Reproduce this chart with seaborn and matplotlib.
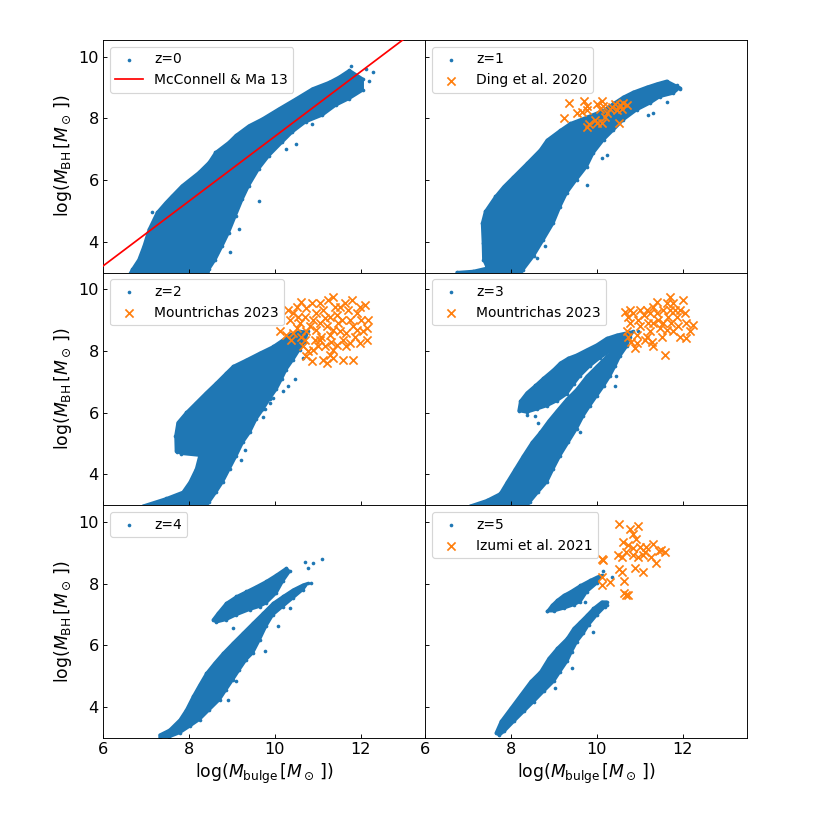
import matplotlib
matplotlib.use('Agg')
import matplotlib.pyplot as plt
import seaborn as sns

# outlines of the simulated galaxy clouds (log Mbulge, log MBH)
z0_cloud = [(6.68, 3.10), (6.83, 3.42), (6.95, 3.86), (7.07, 4.40), (7.26, 4.95), (7.46, 5.27),
            (7.61, 5.49), (7.84, 5.82), (8.23, 6.25), (8.47, 6.58), (8.62, 6.90), (8.93, 7.23),
            (9.09, 7.45), (9.40, 7.77), (9.71, 7.99), (10.10, 8.32), (10.49, 8.64), (10.88, 8.97),
            (11.27, 9.18), (11.50, 9.35), (11.74, 9.57), (12.05, 9.29), (12.05, 8.91), (11.74, 8.64),
            (11.42, 8.42), (11.11, 8.10), (10.72, 7.88), (10.41, 7.55), (10.18, 7.23), (9.87, 6.79),
            (9.63, 6.36), (9.40, 5.82), (9.25, 5.38), (9.09, 4.84), (8.93, 4.29), (8.78, 3.86),
            (8.62, 3.42), (8.47, 3.10), (8.45, 2.90), (6.60, 2.90)]
z0_dots = [(7.14, 4.95), (12.28, 9.51), (12.12, 9.62), (11.77, 9.71), (11.97, 8.97), (10.88, 7.83),
           (10.49, 7.17), (10.26, 7.00), (9.63, 5.33), (9.17, 4.40), (8.97, 3.66), (12.20, 9.20)]

z1_cloud = [(6.74, 3.01), (7.13, 3.05), (7.44, 3.15), (7.70, 3.20), (7.74, 3.85), (7.80, 4.26),
            (7.87, 3.85), (7.92, 3.31), (7.71, 3.22), (7.44, 3.17), (7.36, 3.42), (7.35, 3.96),
            (7.33, 4.60), (7.40, 4.98), (7.64, 5.47), (7.83, 5.79), (8.06, 6.11), (8.37, 6.54),
            (8.68, 6.98), (8.84, 7.30), (9.15, 7.62), (9.38, 7.84), (9.77, 8.05), (10.16, 8.27),
            (10.39, 8.49), (10.62, 8.70), (10.85, 8.86), (11.16, 9.02), (11.40, 9.13), (11.63, 9.22),
            (11.94, 9.00), (11.78, 8.81), (11.47, 8.70), (11.24, 8.49), (10.93, 8.27), (10.62, 7.95),
            (10.39, 7.62), (10.16, 7.30), (9.92, 6.87), (9.77, 6.44), (9.53, 6.01), (9.30, 5.57),
            (9.15, 5.14), (8.99, 4.60), (8.76, 4.06), (8.53, 3.53), (8.29, 3.09), (8.22, 2.93),
            (6.74, 2.93)]
z1_dots = [(11.32, 8.16), (11.63, 8.54), (11.20, 8.11), (10.23, 6.81), (10.12, 6.71), (9.77, 5.84),
           (8.80, 3.85), (8.60, 3.47), (11.86, 9.08), (11.94, 8.97)]

z2_cloud = [(6.93, 2.98), (7.47, 3.22), (7.86, 3.43), (8.02, 3.75), (8.17, 4.18), (8.25, 4.61),
            (7.82, 4.67), (7.70, 4.77), (7.69, 5.26), (7.74, 5.68), (7.94, 6.01), (8.17, 6.33),
            (8.40, 6.65), (8.64, 6.97), (8.87, 7.29), (9.03, 7.51), (9.34, 7.72), (9.65, 7.94),
            (9.96, 8.15), (10.19, 8.37), (10.35, 8.53), (10.58, 8.64), (10.78, 8.64), (10.70, 8.31),
            (10.58, 8.05), (10.43, 7.72), (10.27, 7.40), (10.16, 7.08), (10.04, 6.76), (9.88, 6.44),
            (9.73, 6.11), (9.57, 5.79), (9.42, 5.36), (9.26, 5.04), (9.11, 4.61), (8.95, 4.18),
            (8.79, 3.75), (8.64, 3.43), (8.48, 3.11), (8.40, 2.95), (6.93, 2.95)]
z2_dots = [(10.31, 6.86), (10.19, 6.70), (9.96, 6.49), (9.88, 6.33), (9.77, 6.11), (9.73, 5.85),
           (9.34, 5.36), (9.30, 4.79), (9.22, 4.48), (9.03, 4.53), (7.72, 4.72), (10.66, 7.78),
           (10.47, 7.08)]

z3_upper = [(8.18, 6.06), (8.22, 6.38), (8.37, 6.65), (8.57, 6.89), (8.76, 7.13), (8.99, 7.40),
            (9.15, 7.62), (9.34, 7.78), (9.53, 7.88), (9.77, 8.05), (10.00, 8.21), (10.23, 8.42),
            (10.47, 8.53), (10.70, 8.60), (10.85, 8.64), (10.74, 8.37), (10.54, 8.21), (10.31, 7.99),
            (10.08, 7.78), (9.84, 7.51), (9.61, 7.19), (9.46, 6.92), (9.30, 6.60), (9.07, 6.38),
            (8.84, 6.22), (8.60, 6.11), (8.37, 6.01)]
z3_lower = [(7.05, 2.98), (7.44, 3.16), (7.75, 3.38), (7.91, 3.75), (8.10, 4.18), (8.29, 4.61),
            (8.49, 5.04), (8.68, 5.36), (8.88, 5.74), (9.07, 6.06), (9.30, 6.44), (9.53, 6.76),
            (9.77, 7.19), (10.00, 7.51), (10.23, 7.83), (10.47, 8.10), (10.66, 8.37), (10.78, 8.47),
            (10.70, 8.15), (10.54, 7.83), (10.43, 7.51), (10.31, 7.19), (10.16, 6.86), (10.00, 6.54),
            (9.84, 6.22), (9.69, 5.90), (9.53, 5.47), (9.34, 5.04), (9.15, 4.61), (8.99, 4.18),
            (8.84, 3.75), (8.64, 3.43), (8.45, 3.11), (8.37, 2.95), (7.05, 2.95)]
z3_dots = [(8.22, 6.11), (8.37, 5.93), (8.57, 5.90), (8.64, 5.68), (9.61, 5.39), (10.43, 6.86),
           (10.45, 7.19), (10.97, 8.64)]

z4_upper = [(8.56, 6.83), (8.68, 7.05), (8.87, 7.37), (9.11, 7.59), (9.34, 7.75), (9.57, 7.91),
            (9.80, 8.08), (10.04, 8.29), (10.27, 8.51), (10.35, 8.40), (10.19, 8.08), (10.04, 7.70),
            (9.80, 7.37), (9.65, 7.26), (9.42, 7.16), (9.11, 6.99), (8.87, 6.83), (8.64, 6.75)]
z4_lower = [(7.32, 3.10), (7.55, 3.26), (7.79, 3.59), (7.94, 3.91), (8.10, 4.35), (8.25, 4.72),
            (8.41, 5.10), (8.60, 5.43), (8.80, 5.75), (9.03, 6.08), (9.26, 6.40), (9.49, 6.72),
            (9.73, 7.05), (9.96, 7.37), (10.19, 7.59), (10.43, 7.81), (10.66, 7.97), (10.77, 8.02),
            (10.66, 7.81), (10.43, 7.54), (10.19, 7.26), (9.96, 6.99), (9.80, 6.62), (9.65, 6.18),
            (9.49, 5.75), (9.34, 5.54), (9.18, 5.21), (9.03, 4.89), (8.87, 4.56), (8.72, 4.24),
            (8.48, 3.91), (8.25, 3.59), (8.02, 3.37), (7.79, 3.16), (7.55, 3.03), (7.32, 2.99)]
z4_dots = [(9.04, 6.58), (10.08, 6.64), (9.77, 5.81), (10.70, 8.70), (10.89, 8.67), (11.10, 8.80),
           (10.77, 8.51), (10.84, 8.04), (10.35, 7.21), (8.91, 4.24), (9.11, 4.83)]

z5_upper = [(8.85, 7.11), (8.96, 7.31), (9.08, 7.47), (9.23, 7.63), (9.38, 7.74), (9.62, 7.95),
            (9.85, 8.12), (10.00, 8.22), (10.12, 8.28), (10.00, 8.01), (9.77, 7.74), (9.62, 7.42),
            (9.46, 7.31), (9.23, 7.20), (9.00, 7.11)]
z5_lower = [(7.65, 3.16), (7.77, 3.54), (8.00, 3.97), (8.23, 4.40), (8.46, 4.83), (8.69, 5.15),
            (8.88, 5.58), (9.08, 5.91), (9.31, 6.23), (9.46, 6.55), (9.62, 6.77), (9.77, 6.98),
            (9.92, 7.20), (10.12, 7.42), (10.23, 7.42), (10.19, 7.25), (10.00, 6.98), (9.81, 6.66),
            (9.69, 6.39), (9.54, 6.12), (9.42, 5.80), (9.31, 5.48), (9.15, 5.15), (9.00, 4.83),
            (8.77, 4.51), (8.54, 4.18), (8.31, 3.86), (8.08, 3.54), (7.85, 3.21), (7.73, 3.08)]
z5_dots = [(9.92, 6.45), (10.35, 8.22), (10.23, 7.31), (9.73, 7.42), (9.42, 5.26), (9.04, 4.61),
           (10.14, 8.41), (8.85, 7.11)]

# observational samples
ding2020 = [(9.36, 8.49), (9.71, 8.57), (9.77, 8.40), (10.00, 8.46), (10.12, 8.57), (10.08, 8.32),
            (9.24, 8.03), (9.53, 8.18), (9.65, 8.22), (9.77, 8.27), (9.81, 7.81), (9.77, 7.73),
            (9.96, 7.95), (10.00, 7.84), (10.12, 7.84), (10.19, 8.05), (10.23, 8.16), (10.31, 8.29),
            (10.35, 8.38), (10.43, 8.46), (10.47, 8.27), (10.54, 8.43), (10.58, 8.32), (10.62, 8.49),
            (10.70, 8.43), (10.53, 7.84), (10.14, 8.40)]

mountrichas_z2 = [(10.12, 8.66), (10.27, 8.53), (10.39, 8.37), (10.43, 8.58), (10.51, 8.74), (10.58, 8.90),
                  (10.62, 8.47), (10.66, 8.15), (10.70, 8.37), (10.74, 8.64), (10.82, 8.80), (10.89, 9.01),
                  (10.97, 9.23), (11.05, 9.55), (11.13, 9.33), (11.17, 9.06), (11.21, 8.80), (11.28, 8.53),
                  (11.32, 8.31), (11.36, 9.76), (11.40, 9.44), (11.44, 9.17), (11.48, 8.90), (11.52, 8.64),
                  (11.60, 8.37), (11.63, 9.55), (11.71, 9.33), (11.75, 9.01), (11.79, 9.65), (11.83, 8.80),
                  (11.87, 8.47), (11.91, 9.23), (11.98, 9.44), (12.02, 9.01), (12.10, 9.49), (12.14, 8.74),
                  (12.14, 8.37), (12.18, 9.01), (10.43, 9.23), (10.51, 9.44), (10.62, 9.60), (10.74, 9.39),
                  (10.86, 9.55), (10.97, 8.69), (11.05, 8.90), (11.09, 8.47), (11.17, 8.15), (11.13, 7.72),
                  (11.21, 7.62), (11.28, 7.88), (11.36, 7.78), (11.60, 7.72), (11.83, 7.72), (10.86, 7.67),
                  (10.78, 7.99), (10.89, 8.05), (11.01, 8.15), (11.36, 8.05), (11.44, 8.21), (11.67, 8.15),
                  (10.35, 9.01), (10.31, 9.33), (10.54, 9.12), (10.70, 9.12), (11.25, 9.65), (11.56, 9.01),
                  (11.67, 8.58), (11.28, 9.12), (11.36, 8.69), (11.05, 8.37), (10.74, 7.83), (11.52, 9.44),
                  (11.75, 8.26), (11.91, 8.69), (12.06, 8.64), (11.98, 8.26), (10.93, 8.37)]

mountrichas_z3 = [(10.66, 9.28), (10.74, 9.12), (10.78, 8.90), (10.70, 8.64), (10.74, 8.47), (10.81, 8.31),
                  (10.89, 8.10), (10.93, 8.53), (10.97, 9.01), (11.01, 9.33), (11.09, 9.17), (11.16, 9.33),
                  (11.20, 8.90), (11.24, 8.64), (11.28, 8.31), (11.32, 8.15), (11.32, 9.44), (11.40, 9.23),
                  (11.43, 9.01), (11.47, 8.74), (11.51, 8.47), (11.55, 9.33), (11.63, 9.55), (11.67, 9.12),
                  (11.71, 9.76), (11.74, 8.90), (11.78, 8.64), (11.82, 9.33), (11.86, 9.12), (11.90, 8.80),
                  (11.94, 8.47), (12.02, 9.65), (12.05, 9.23), (12.09, 8.90), (12.09, 8.42), (12.17, 8.64),
                  (12.25, 8.85), (11.59, 7.88), (10.85, 9.23), (11.01, 8.80), (11.16, 8.47), (11.32, 8.90),
                  (11.63, 8.69), (11.78, 9.55), (11.40, 9.60), (11.24, 9.23), (11.55, 8.90), (11.71, 9.33),
                  (11.94, 9.33), (11.12, 8.37), (10.93, 8.26), (10.78, 9.33)]

izumi2021 = [(10.52, 9.95), (10.78, 9.79), (10.96, 9.87), (10.85, 9.63), (10.62, 9.36), (10.73, 9.25),
             (10.92, 9.46), (11.00, 9.19), (10.69, 9.03), (10.50, 8.92), (10.58, 8.87), (10.85, 8.92),
             (10.96, 8.87), (11.08, 8.92), (11.15, 9.19), (11.12, 9.03), (11.31, 9.30), (11.50, 9.09),
             (11.58, 9.03), (11.46, 9.05), (11.27, 8.87), (11.38, 8.69), (10.88, 8.52), (11.08, 8.39),
             (10.52, 8.49), (10.58, 8.39), (10.63, 8.08), (10.12, 8.82), (10.14, 8.76), (10.12, 8.22),
             (10.31, 8.06), (10.12, 7.95), (10.63, 7.69), (10.68, 7.63), (10.73, 7.65), (10.85, 9.16)]

# McConnell & Ma 2013 relation, end points
mcconnell_x = [6.0, 13.5]
mcconnell_y = [3.21, 11.09]

redshifts = ['z=0', 'z=1', 'z=2', 'z=3', 'z=4', 'z=5']
clouds = [[z0_cloud], [z1_cloud], [z2_cloud], [z3_upper, z3_lower], [z4_upper, z4_lower], [z5_upper, z5_lower]]
dots = [z0_dots, z1_dots, z2_dots, z3_dots, z4_dots, z5_dots]
obs = [None, (ding2020, 'Ding et al. 2020'), (mountrichas_z2, 'Mountrichas 2023'),
       (mountrichas_z3, 'Mountrichas 2023'), None, (izumi2021, 'Izumi et al. 2021')]

fig, axes = plt.subplots(3, 2, figsize=(10, 10), dpi=83, sharex=True, sharey=True)
fig.subplots_adjust(left=0.124, right=0.9, bottom=0.111, top=0.952, hspace=0, wspace=0)

for i, ax in enumerate(axes.flat):
    pts = []
    for poly in clouds[i]:
        ax.fill([p[0] for p in poly], [p[1] for p in poly], color='C0', lw=2.2,
                joinstyle='round', zorder=1)
        pts += poly
    pts += dots[i]
    sns.scatterplot(x=[p[0] for p in pts], y=[p[1] for p in pts], ax=ax, color='C0',
                    s=10, linewidth=0, label=redshifts[i], zorder=2)
    if i == 0:
        sns.lineplot(x=mcconnell_x, y=mcconnell_y, ax=ax, color='red', lw=1.5,
                     label='McConnell & Ma 13', zorder=3)
    if obs[i] is not None:
        sample, name = obs[i]
        sns.scatterplot(x=[p[0] for p in sample], y=[p[1] for p in sample], ax=ax, color='C1',
                        marker='x', s=50, linewidth=1.5, label=name, zorder=4)
    ax.legend(loc='upper left', fontsize=12)
    ax.set_xlim(6, 13.5)
    ax.set_ylim(3, 10.55)
    ax.set_xticks([6, 8, 10, 12])
    ax.set_yticks([4, 6, 8, 10])
    ax.tick_params(direction='in', labelsize=14)
    ax.set_xlabel('')
    ax.set_ylabel('')
    if i % 2 == 0:
        ax.set_ylabel(r'log($M_{\rm BH}\,[M_\odot\,$])', fontsize=15)
    if i >= 4:
        ax.set_xlabel(r'log($M_{\rm bulge}\,[M_\odot\,$])', fontsize=15)

fig.savefig('out.png', dpi=83)
